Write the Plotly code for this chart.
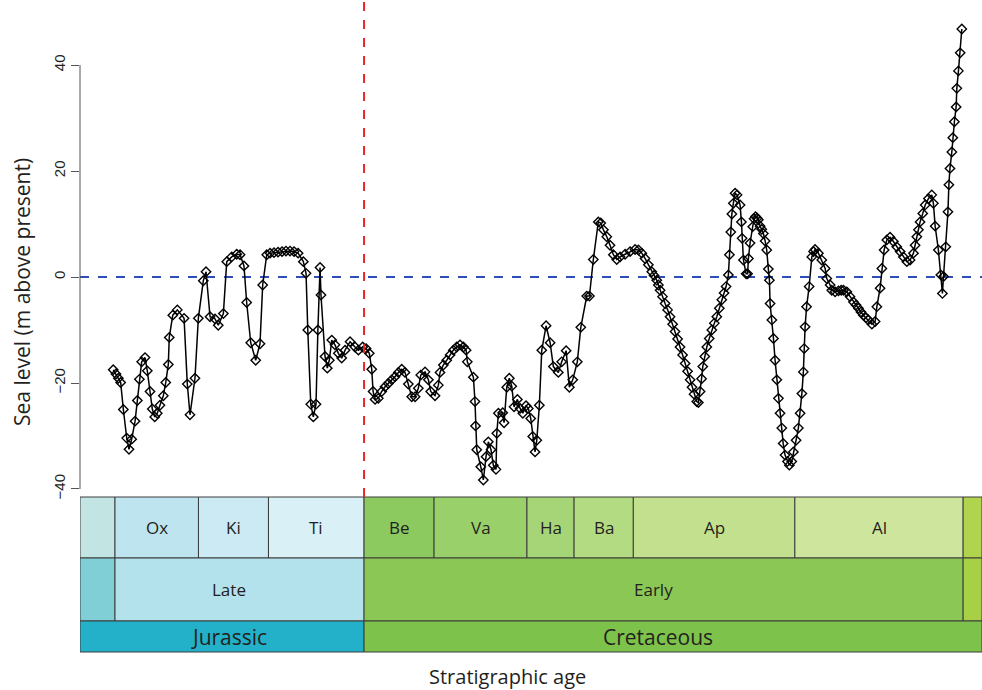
import plotly.graph_objects as go

# ---- data: age (Ma) and sea level (m above present) ----
age = [163.63, 163.43, 163.25, 163.08, 162.88, 162.63, 162.46, 162.26, 162.01, 161.84,
       161.69, 161.52, 161.27, 161.10, 160.90, 160.73, 160.55, 160.36, 160.16, 159.91,
       159.73, 159.54, 159.47, 159.21, 158.87, 158.37, 158.13, 157.93, 157.56, 157.31,
       156.94, 156.74, 156.44, 156.07, 155.83, 155.45, 155.20, 154.83, 154.46, 154.21,
       153.92, 153.72, 153.42, 153.05, 152.73, 152.53, 152.23, 151.98, 151.69, 151.39,
       151.09, 150.80, 150.50, 150.20, 149.90, 149.51, 149.31, 149.18, 148.96, 148.77,
       148.57, 148.43, 148.27, 148.20, 147.90, 147.73, 147.58, 147.40, 147.16, 146.91,
       146.66, 146.41, 146.04, 145.67, 145.42, 145.10, 144.85, 144.61, 144.43, 144.33,
       144.18, 143.94, 143.69, 143.44, 143.20, 142.94, 142.70, 142.45, 142.20, 141.96,
       141.71, 141.46, 141.21, 140.97, 140.79, 140.47, 140.22, 140.05, 139.73, 139.48,
       139.36, 139.11, 138.86, 138.61, 138.37, 138.12, 137.87, 137.62, 137.42, 137.33,
       136.88, 136.76, 136.72, 136.63, 136.33, 136.14, 135.94, 135.77, 135.57, 135.40,
       135.20, 135.14, 135.02, 134.70, 134.60, 134.40, 134.21, 134.03, 133.86, 133.61,
       133.41, 133.21, 132.97, 132.80, 132.62, 132.47, 132.30, 132.17, 131.98, 131.80,
       131.48, 131.18, 130.94, 130.57, 130.32, 129.99, 129.75, 129.50, 129.16, 128.90,
       128.46, 128.26, 127.97, 127.60, 127.42, 127.22, 126.97, 126.73, 126.48, 126.23,
       125.98, 125.61, 125.24, 124.87, 124.62, 124.37, 124.13, 123.88, 123.63, 123.46,
       123.26, 123.14, 123.01, 122.83, 122.64, 122.45, 122.27, 122.08, 121.90, 121.71,
       121.53, 121.34, 121.15, 120.97, 120.78, 120.64, 120.49, 120.29, 120.17, 120.04,
       119.93, 119.84, 119.69, 119.54, 119.36, 119.17, 118.98, 118.80, 118.61, 118.43,
       118.26, 118.11, 117.94, 117.86, 117.76, 117.68, 117.57, 117.44, 117.29, 117.07,
       116.97, 116.92, 116.82, 116.62, 116.51, 116.45, 116.33, 116.13, 116.03, 115.92,
       115.81, 115.71, 115.58, 115.46, 115.34, 115.21, 115.09, 114.97, 114.89, 114.84,
       114.71, 114.59, 114.47, 114.34, 114.22, 114.10, 113.97, 113.87, 113.73, 113.55,
       113.41, 113.23, 113.11, 112.91, 112.74, 112.61, 112.48, 112.37, 112.31, 112.24,
       112.13, 111.94, 111.74, 111.61, 111.50, 111.25, 111.00, 110.75, 110.63, 110.38,
       110.26, 110.01, 109.76, 109.56, 109.39, 109.14, 108.90, 108.65, 108.46, 108.28,
       108.09, 107.91, 107.72, 107.54, 107.28, 107.04, 106.91, 106.67, 106.54, 106.37,
       106.17, 105.93, 105.68, 105.43, 105.18, 104.94, 104.68, 104.44, 104.19, 104.07,
       103.94, 103.82, 103.70, 103.50, 103.32, 103.08, 102.83, 102.71, 102.58, 102.34,
       102.16, 102.04, 101.96, 101.79, 101.63, 101.56, 101.48, 101.34, 101.27, 101.15,
       101.02, 100.97, 100.85, 100.72, 100.60]
sea_level = [-17.5, -18.3, -19.1, -19.9, -25.0, -30.4, -32.5, -30.6, -27.2, -23.3,
             -19.3, -16.0, -15.2, -17.7, -21.6, -24.9, -26.4, -25.7, -24.2, -22.4,
             -19.9, -16.5, -11.4, -7.2, -6.2, -7.8, -20.2, -26.0, -19.1, -7.8,
             -0.7, 1.0, -7.5, -7.9, -9.1, -6.9, 2.9, 3.8, 4.3, 4.2,
             2.1, -4.8, -12.4, -15.7, -12.6, -1.5, 4.2, 4.5, 4.6, 4.7,
             4.8, 4.9, 4.9, 4.8, 4.5, 2.9, 0.7, -10.0, -24.0, -26.4,
             -24.0, -10.0, 1.8, -3.4, -15.0, -17.2, -15.7, -11.9, -12.8, -14.4,
             -15.3, -13.8, -12.2, -13.2, -13.8, -13.2, -13.5, -14.4, -17.4, -21.6,
             -23.1, -22.9, -21.6, -20.7, -20.1, -19.4, -18.8, -18.0, -17.4, -18.0,
             -20.2, -22.6, -22.6, -21.0, -18.5, -17.9, -19.4, -21.6, -22.4, -20.4,
             -18.0, -16.6, -15.7, -14.7, -13.8, -13.2, -12.8, -13.2, -13.8, -16.0,
             -18.9, -23.5, -28.1, -32.6, -35.8, -38.3, -33.9, -31.1, -32.6, -35.5,
             -36.3, -29.5, -25.7, -25.6, -27.5, -20.8, -19.1, -20.6, -24.5, -23.1,
             -24.8, -25.7, -24.3, -24.8, -26.7, -30.1, -33.0, -30.8, -24.2, -13.8,
             -9.2, -12.4, -16.9, -18.0, -16.0, -13.9, -20.8, -19.4, -16.0, -9.5,
             -3.6, -3.6, 3.3, 10.4, 10.2, 8.9, 7.6, 6.0, 4.2, 3.3,
             3.8, 4.3, 4.8, 5.2, 5.1, 4.5, 3.5, 2.3, 1.0, 0.3,
             -0.6, -1.5, -2.5, -3.7, -5.0, -6.2, -7.5, -8.9, -10.3, -11.7,
             -13.2, -14.7, -16.3, -17.8, -19.4, -20.8, -22.1, -23.5, -23.7, -21.6,
             -19.2, -16.9, -15.0, -13.2, -11.6, -10.0, -8.7, -7.5, -5.9, -4.3,
             -3.0, -1.8, 0.4, 4.2, 8.5, 11.9, 13.9, 15.8, 15.5, 13.6,
             10.4, 7.3, 3.2, 0.6, 0.6, 3.5, 6.4, 9.5, 11.0, 11.4,
             11.1, 10.8, 9.6, 9.0, 8.2, 6.8, 5.1, 1.5, -0.6, -5.0,
             -8.1, -11.6, -15.7, -19.4, -22.9, -25.7, -28.5, -31.4, -33.6, -34.8,
             -35.5, -34.8, -33.0, -30.8, -28.5, -25.7, -22.0, -17.9, -13.5, -9.4,
             -5.6, -1.8, 3.8, 4.8, 5.2, 4.5, 3.2, 1.6, -0.3, -1.5,
             -2.5, -2.8, -2.6, -2.5, -2.5, -2.8, -3.7, -4.7, -5.3, -5.9,
             -6.6, -7.2, -7.7, -8.1, -8.9, -8.4, -5.6, -2.1, 1.6, 5.1,
             7.0, 7.5, 6.7, 5.7, 4.8, 3.8, 2.9, 3.2, 4.5, 6.0,
             7.6, 8.9, 10.4, 12.0, 13.6, 14.8, 15.5, 13.9, 9.6, 5.1,
             0.4, -3.1, 0.1, 5.7, 12.3, 17.4, 20.5, 23.6, 26.3, 29.3,
             32.1, 35.6, 38.9, 42.3, 46.8]

# ---- timescale (Ma) ----
stage_names = ["", "Ox", "Ki", "Ti", "Be", "Va", "Ha", "Ba", "Ap", "Al", ""]
stage_old = [166.1, 163.5, 157.3, 152.1, 145.0, 139.8, 132.9, 129.4, 125.0, 113.0, 100.5]
stage_young = [163.5, 157.3, 152.1, 145.0, 139.8, 132.9, 129.4, 125.0, 113.0, 100.5, 93.9]
stage_colors = ["#C2E4E2", "#BDE4EF", "#CBEAF3", "#DAF0F7", "#8CCA60", "#99D06A",
                "#A6D578", "#B3DB82", "#C2E08E", "#CEE59D", "#B0D44D"]

epoch_names = ["", "Late", "Early", ""]
epoch_old = [166.1, 163.5, 145.0, 100.5]
epoch_young = [163.5, 145.0, 100.5, 93.9]
epoch_colors = ["#80CED6", "#B3E1EC", "#8BC755", "#A8D046"]
epoch_label_age = [None, 155.0, 123.5, None]

period_names = ["Jurassic", "Cretaceous"]
period_old = [166.1, 145.0]
period_young = [145.0, 66.0]
period_colors = ["#22B1C8", "#7DC24A"]
period_label_age = [155.0, 123.2]

boundary_age = 145.0
x_range = [166.1, 99.1]
y_range = [-41.7, 50.2]
y_ticks = [-40, -20, 0, 20, 40]

W, H = 982, 690
ML, MT = 80, 11
def py(p):  # pixel row -> paper y
    return (H - p) / (H - MT)

fig = go.Figure()
fig.add_trace(go.Scatter(
    x=age, y=sea_level, mode="lines+markers",
    line=dict(color="black", width=1.5),
    marker=dict(symbol="diamond-open", size=7.2, color="black",
                line=dict(color="black", width=1.4)),
    hoverinfo="x+y", showlegend=False))

shapes = []
annotations = []
font_label = "Open Sans, Lato, sans-serif"

def clip(a):
    return max(min(a, x_range[0]), x_range[1])

rows = [
    (stage_names, stage_old, stage_young, stage_colors, None, 497, 558, 17),
    (epoch_names, epoch_old, epoch_young, epoch_colors, epoch_label_age, 558, 621, 17),
    (period_names, period_old, period_young, period_colors, period_label_age, 621, 652, 21),
]
for names, olds, youngs, cols, lab_age, top, bot, fs in rows:
    for i, nm in enumerate(names):
        x0, x1 = clip(olds[i]), clip(youngs[i])
        shapes.append(dict(type="rect", xref="x", yref="paper",
                           x0=x0, x1=x1, y0=py(bot), y1=py(top),
                           fillcolor=cols[i], line=dict(color="#3c3c3c", width=1),
                           layer="above"))
        if nm:
            xc = lab_age[i] if lab_age else (olds[i] + youngs[i]) / 2
            annotations.append(dict(x=xc, y=py((top + bot) / 2), xref="x", yref="paper",
                                    text=nm, showarrow=False, xanchor="center", yanchor="middle",
                                    font=dict(family=font_label, size=fs, color="#231f20")))

# zero line
shapes.append(dict(type="line", xref="paper", yref="y", x0=0, x1=1, y0=0, y1=0,
                   line=dict(color="#2E4DB8", width=2, dash="dash"), layer="below"))
# J/K boundary
shapes.append(dict(type="line", xref="x", yref="paper", x0=boundary_age, x1=boundary_age,
                   y0=py(497), y1=py(0), line=dict(color="#E8262A", width=2, dash="dash")))
# R-style y axis line from -40 to 40
shapes.append(dict(type="line", xref="paper", yref="y", x0=0, x1=0,
                   y0=y_ticks[0], y1=y_ticks[-1], line=dict(color="#555555", width=1)))

annotations.append(dict(x=(507 - ML) / (W - ML), y=py(676), xref="paper", yref="paper",
                        text="Stratigraphic age", showarrow=False, xanchor="center",
                        yanchor="middle",
                        font=dict(family=font_label, size=20, color="#231f20")))
annotations.append(dict(x=(22 - ML) / (W - ML), y=py(292), xref="paper", yref="paper",
                        text="Sea level (m above present)", showarrow=False, textangle=-90,
                        xanchor="center", yanchor="middle",
                        font=dict(family=font_label, size=21, color="#231f20")))

fig.update_layout(
    width=W, height=H,
    margin=dict(l=ML, r=0, t=MT, b=0, autoexpand=False),
    paper_bgcolor="white", plot_bgcolor="white",
    xaxis=dict(range=x_range, visible=False, domain=[0, 1], automargin=False),
    yaxis=dict(range=y_range, domain=[py(498), 1], tickvals=y_ticks, automargin=False,
               ticktext=[str(v).replace("-", "\u2212") if v < 0 else str(v) for v in y_ticks],
               ticks="outside", ticklen=8, tickcolor="#555555", tickwidth=1,
               tickangle=-90, showgrid=False, zeroline=False, showline=False,
               tickfont=dict(family="Liberation Sans, Arial, sans-serif", size=15, color="#231f20")),
    shapes=shapes, annotations=annotations,
)
fig.write_html("out.html", config={"displayModeBar": False},
               post_script="document.body.style.margin='0';document.body.style.overflow='hidden';")
